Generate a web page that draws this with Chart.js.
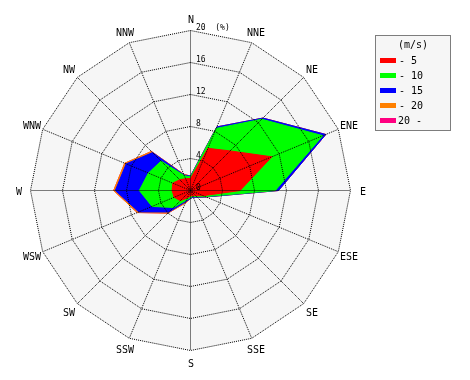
<!DOCTYPE html>
<html><head><meta charset="utf-8">
<script src="https://cdn.jsdelivr.net/npm/chart.js@4.4.0/dist/chart.umd.min.js"></script>
<style>
html,body{margin:0;padding:0;background:#fff;}
#wrap{position:relative;width:470px;height:380px;}
</style></head><body>
<div id="wrap"><canvas id="c" width="470" height="380"></canvas></div>
<script>
const directions = ['N','NNE','NE','ENE','E','ESE','SE','SSE','S','SSW','SW','WSW','W','WNW','NW','NNW'];
const speedClasses = ['- 5','- 10','- 15','- 20','20 -'];
const legendTitle = '(m/s)';
const classColors = ['#ff0000','#00ff00','#0000ff','#ff8000','#ff0080'];
const tickValues = [0,4,8,12,16,20];
const tickLabels = ['0','4','8','12','16','20  (%)'];
// cumulative frequency (%) per direction
const upTo5  = [1.5, 5.7, 7.0, 11.0, 6.2, 1.7, 0.9, 0.7, 0.7, 1.0, 1.8, 2.2, 2.3, 2.4, 1.9, 1.6];
const upTo10 = [1.7, 8.4, 12.6, 17.9, 10.6, 2.0, 1.1, 0.8, 0.9, 1.3, 3.0, 5.2, 6.4, 5.7, 5.2, 2.0];
const upTo15 = [1.8, 8.6, 12.8, 18.3, 11.0, 2.1, 1.2, 0.9, 1.0, 1.5, 3.8, 7.0, 9.4, 8.7, 6.7, 2.1];
const upTo20 = [1.8, 8.6, 12.8, 18.3, 11.0, 2.1, 1.2, 0.9, 1.0, 1.7, 4.0, 7.2, 9.6, 8.9, 6.9, 2.2];
const allSpeeds = [1.8, 8.6, 12.8, 18.3, 11.0, 2.1, 1.2, 0.9, 1.0, 1.7, 4.0, 7.2, 9.6, 8.9, 6.9, 2.2];
const seriesData = [upTo5, upTo10, upTo15, upTo20, allSpeeds];

const decor = {
  id: 'decor',
  beforeDatasetsDraw(chart) {
    const s = chart.scales.r, ctx = chart.ctx;
    ctx.save();
    ctx.beginPath();
    for (let i = 0; i < directions.length; i++) {
      const p = s.getPointPosition(i, s.drawingArea);
      if (i) ctx.lineTo(p.x, p.y); else ctx.moveTo(p.x, p.y);
    }
    ctx.closePath();
    ctx.fillStyle = '#f6f6f6';
    ctx.fill();
    ctx.restore();
  },
  afterDraw(chart) {
    const s = chart.scales.r, ctx = chart.ctx;
    ctx.save();
    ctx.fillStyle = '#000';
    ctx.font = '10px "DejaVu Sans Mono", monospace';
    ctx.textAlign = 'center';
    ctx.textBaseline = 'middle';
    chart.data.labels.forEach((lab, i) => {
      const p = s.getPointPosition(i, s.drawingArea + 12);
      ctx.fillText(lab, Math.round(p.x), Math.round(p.y + 1));
    });
    ctx.font = '8px "DejaVu Sans Mono", monospace';
    ctx.textAlign = 'left';
    ctx.textBaseline = 'alphabetic';
    tickValues.forEach((v, i) => {
      const d = s.getDistanceFromCenterForValue(v);
      ctx.fillText(tickLabels[i], Math.round(s.xCenter + 5), Math.round(s.yCenter - d - 1));
    });
    // legend box
    const bx = 375.5, by = 35.5, bw = 75, bh = 95;
    ctx.fillStyle = '#f6f6f6';
    ctx.fillRect(bx, by, bw, bh);
    ctx.strokeStyle = '#000';
    ctx.lineWidth = 1;
    ctx.setLineDash([1, 1]);
    ctx.strokeRect(bx, by, bw, bh);
    ctx.setLineDash([]);
    ctx.fillStyle = '#000';
    ctx.font = '10px "DejaVu Sans Mono", monospace';
    ctx.textAlign = 'center';
    ctx.fillText(legendTitle, 413, 48);
    ctx.textAlign = 'left';
    chart.data.datasets.forEach((ds, i) => {
      const cy = Math.round(59.5 + 15.2 * i);
      ctx.fillStyle = ds.backgroundColor;
      ctx.fillRect(380, cy - 2, 16, 5);
      ctx.fillStyle = '#000';
      ctx.fillText(ds.label, i === 4 ? 398 : 399, cy + 4);
    });
    ctx.restore();
  }
};

new Chart(document.getElementById('c'), {
  type: 'radar',
  data: {
    labels: directions,
    datasets: seriesData.map((d, i) => ({
      label: speedClasses[i],
      data: d,
      backgroundColor: classColors[i],
      borderColor: classColors[i],
      borderWidth: 1,
      fill: 'origin',
      pointRadius: 0,
      pointHoverRadius: 0,
      tension: 0
    }))
  },
  options: {
    responsive: false,
    animation: false,
    devicePixelRatio: 1,
    layout: { padding: { left: 30, right: 120, top: 30, bottom: 30 } },
    plugins: { legend: { display: false }, tooltip: { enabled: false } },
    scales: {
      r: {
        min: 0, max: 20,
        startAngle: 0,
        afterFit: (s) => { s.xCenter += 0.5; s.yCenter += 0.5; },
        ticks: { display: false, stepSize: 4 },
        pointLabels: { display: false },
        grid: { color: '#000', lineWidth: 1, z: 1, circular: false, borderDash: [1, 1] },
        border: { dash: [1, 1] },
        angleLines: { display: true, color: '#000', lineWidth: 1, borderDash: [1, 1] }
      }
    }
  },
  plugins: [decor]
});
</script>
</body></html>
